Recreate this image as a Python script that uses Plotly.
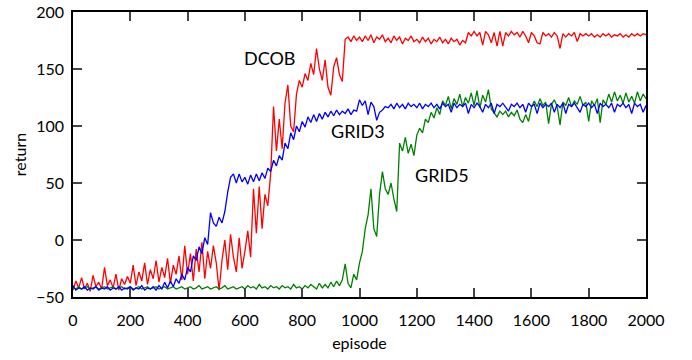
import plotly.graph_objects as go

episodes = list(range(0, 2001, 10))

dcob = [
    -44, -36, -42, -33, -43, -38, -45, -31, -41, -37,
    -43, -24, -40, -35, -42, -30, -44, -34, -39, -32,
    -38, -22, -40, -28, -36, -20, -39, -26, -34, -18,
    -37, -24, -33, -16, -38, -22, -30, -14, -35, -5,
    -30, -12, -36, -8, -28, -2, -34, -10, -25, -5,
    -20, -44, -18, 0, -26, 5, -15, -28, 2, -25,
    -10, 8, -15, 45, 6, 47, 10, 40, 30, 58,
    117, 78, 106, 80, 120, 136, 100, 95, 128, 140,
    134, 146, 140, 155, 145, 168, 150, 140, 158, 134,
    127, 152, 160, 145, 139, 176, 178, 174, 179, 175,
    178, 174, 179, 175, 180, 173, 178, 176, 180, 174,
    177, 173, 179, 175, 178, 172, 177, 175, 179, 174,
    176, 173, 178, 174, 177, 172, 176, 174, 178, 173,
    176, 172, 177, 174, 176, 171, 175, 173, 182, 179,
    183, 179, 182, 171, 183, 180, 173, 182, 170, 183,
    170, 182, 179, 183, 180, 182, 178, 183, 179, 173,
    182, 179, 173, 172, 182, 179, 181, 178, 182, 179,
    168, 181, 178, 181, 179, 182, 174, 181, 179, 181,
    179, 181, 178, 180, 178, 181, 179, 181, 178, 180,
    179, 181, 178, 180, 178, 181, 179, 181, 179, 181,
    180,
]

grid3 = [
    -40, -44, -42, -43, -41, -44, -42, -43, -41, -44,
    -42, -43, -41, -44, -42, -43, -41, -44, -42, -43,
    -41, -44, -42, -43, -40, -44, -42, -43, -41, -44,
    -40, -43, -37, -42, -36, -41, -34, -38, -30, -35,
    -24, -28, -14, -18, -6, -12, 2, -4, 24, 15,
    12, 20, 15, 25, 42, 55, 58, 50, 58, 51,
    55, 49, 57, 51, 58, 52, 59, 54, 63, 60,
    70, 65, 74, 70, 85, 80, 94, 88, 100, 95,
    104, 99, 108, 103, 110, 104, 111, 106, 112, 108,
    113, 109, 114, 110, 113, 111, 115, 110, 114, 113,
    123, 118, 122, 110, 121, 117, 105, 112, 114, 117,
    116, 119, 115, 120, 116, 119, 115, 120, 117, 119,
    116, 120, 115, 119, 117, 120, 116, 119, 115, 120,
    117, 119, 112, 120, 116, 119, 117, 120, 111, 119,
    116, 120, 117, 112, 119, 116, 120, 111, 119, 117,
    120, 116, 113, 119, 117, 120, 116, 119, 112, 120,
    117, 119, 111, 120, 116, 119, 117, 120, 112, 119,
    116, 120, 111, 119, 117, 120, 116, 112, 119, 117,
    120, 116, 119, 111, 120, 117, 119, 116, 120, 112,
    119, 117, 120, 116, 119, 111, 120, 117, 119, 112,
    118,
]

grid5 = [
    -42, -43, -41, -43, -42, -41, -43, -42, -41, -43,
    -42, -41, -43, -42, -41, -43, -42, -41, -43, -42,
    -41, -43, -42, -41, -43, -42, -41, -43, -42, -41,
    -43, -42, -41, -43, -42, -41, -43, -42, -41, -43,
    -42, -41, -43, -42, -40, -43, -42, -41, -43, -42,
    -41, -43, -42, -40, -43, -42, -41, -43, -42, -41,
    -43, -40, -42, -41, -43, -39, -42, -41, -43, -40,
    -42, -41, -43, -40, -42, -41, -43, -39, -42, -41,
    -43, -40, -42, -39, -41, -43, -38, -42, -39, -42,
    -37, -41, -36, -40, -35, -21, -38, -42, -30, -35,
    -20, -10, 10, 22, 45, 10, 3, 40, 60, 45,
    40, 50, 36, 25, 85, 78, 90, 76, 84, 74,
    92, 98, 94, 106, 103, 112, 107, 116, 110, 122,
    118, 126, 115, 124, 119, 128, 117, 125, 120, 129,
    118, 131, 116, 127, 121, 132, 115, 111, 108, 113,
    110, 113, 108, 112, 109, 114, 106, 103, 110, 104,
    116, 122, 117, 124, 118, 121, 102, 119, 123, 117,
    101, 121, 118, 125, 117, 122, 119, 126, 118, 121,
    104, 122, 118, 124, 103, 123, 119, 128, 121, 130,
    122, 127, 120, 129, 121, 126, 120, 130, 122, 128,
    124,
]

x_ticks = [0, 200, 400, 600, 800, 1000, 1200, 1400, 1600, 1800, 2000]
y_ticks = [-50, 0, 50, 100, 150, 200]

labels = ["DCOB", "GRID3", "GRID5"]
label_x = [688, 995, 1289]
label_y = [160, 96, 57]

FONT = "Lato"

fig = go.Figure()
fig.add_trace(go.Scatter(x=episodes, y=dcob, mode="lines",
                         line=dict(color="#ff0000", width=1.3), name="DCOB"))
fig.add_trace(go.Scatter(x=episodes, y=grid5, mode="lines",
                         line=dict(color="#008000", width=1.3), name="GRID5"))
fig.add_trace(go.Scatter(x=episodes, y=grid3, mode="lines",
                         line=dict(color="#0000ff", width=1.3), name="GRID3"))

for t, xx, yy in zip(labels, label_x, label_y):
    fig.add_annotation(x=xx, y=yy, text=t, showarrow=False,
                       font=dict(family=FONT, size=18, color="black"))

axis_common = dict(
    showgrid=False, zeroline=False, showline=True, linecolor="black",
    linewidth=1.5, mirror="allticks", ticks="inside", ticklen=9,
    tickwidth=1.5, tickcolor="#444444", automargin=False,
    tickfont=dict(family=FONT, size=16, color="black"),
)

fig.update_xaxes(range=[0, 2000], tickvals=x_ticks,
                 title=dict(text="episode", font=dict(family=FONT, size=16, color="black"), standoff=10),
                 ticklabelstandoff=8, **axis_common)
fig.update_yaxes(range=[-50, 200], tickvals=y_ticks,
                 title=dict(text="return", font=dict(family=FONT, size=16, color="black"), standoff=6),
                 ticklabelstandoff=4, **axis_common)

fig.update_layout(
    width=692, height=360,
    margin=dict(l=73, r=46, t=12, b=63),
    paper_bgcolor="white", plot_bgcolor="white",
    showlegend=False,
)

fig.write_html("out.html")
